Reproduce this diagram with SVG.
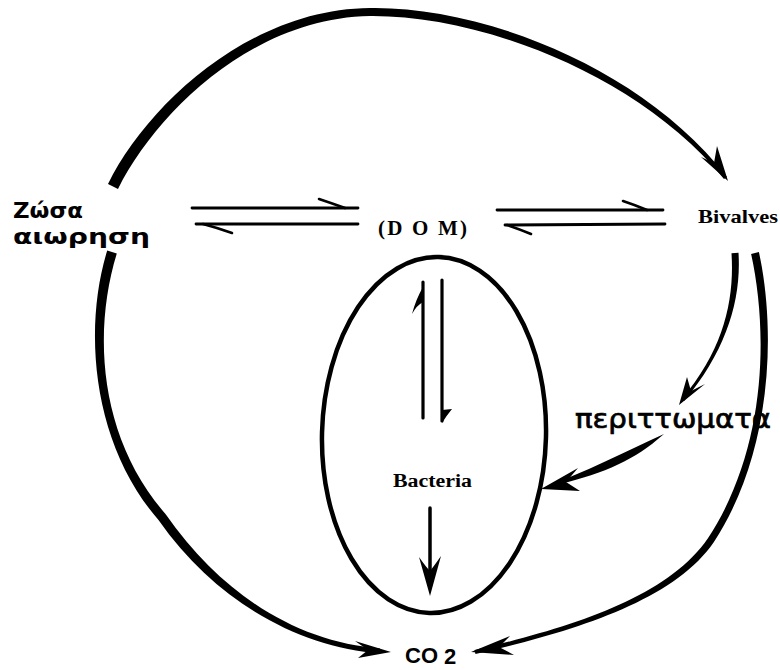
<svg xmlns="http://www.w3.org/2000/svg" width="780" height="670" viewBox="0 0 780 670">
<style>
.ink{fill:#000;stroke:none}
.line{fill:none;stroke:#000;stroke-linecap:round}
.barb{fill:none;stroke:#000;stroke-width:2.6;stroke-linecap:round}
.hand{font-family:"DejaVu Sans","Noto Sans",sans-serif;fill:#000}
.serif{font-family:"Liberation Serif","Times New Roman",serif;font-weight:bold;fill:#000}
.sans{font-family:"Liberation Sans",Arial,sans-serif;font-weight:bold;fill:#000}
</style>
<rect width="780" height="670" fill="#fff"/>

<g id="connectors">
  <!-- top arc: Zosa -> Bivalves -->
  <path class="ink" d="M108,184 C146,107 248,9 370,8 C481,6 642,67 727,177 L724,179 C637,73 479,15 370,16 C252,18 156,113 118,189 Z"/>
  <path class="ink" d="M728,181 L701,157 L714,163 L717,146 Z"/>
  <!-- left arc: Zosa -> CO2 -->
  <path class="ink" d="M107.2,250.5 C83.2,328.5 91.6,443 158.5,520 C216.3,602.6 299.8,647.5 380,653.5 L380,648.5 C300.2,642.5 223.7,597.4 165.5,514 C98.4,437 92.8,331.5 116.8,253.5 Z"/>
  <path class="ink" d="M391,652 L355,641 L368,650 L358,658 Z"/>
  <!-- right outer arc: Bivalves -> CO2 -->
  <path class="ink" d="M758.9,252.1 C775.9,329.1 772.9,451.9 713.9,541.9 C672.9,601.9 570.5,632 475.5,654 L474.5,650 C569.5,628 667.1,598.1 708.1,538.1 C767.1,448.1 768.1,330.9 751.1,253.9 Z"/>
  <path class="ink" d="M471,652 L510,636 L499,647 L514,655 Z"/>
  <!-- Bivalves -> faeces -->
  <path class="ink" d="M738.5,252.8 C741.5,299.8 726.1,351 684.1,401 L681.9,399 C723.9,349 734.5,300.2 731.5,253.2 Z"/>
  <path class="ink" d="M679,405 L687,377 L691,391 L705,384 Z"/>
  <!-- faeces -> bacteria -->
  <path class="ink" d="M664,434 C625,452 585,472 543,488 C590,478 625,465 652,444 Z"/>
  <path class="ink" d="M541,489 L578,468 L566,482 L580,491 Z"/>
  <!-- Zosa <-> DOM -->
  <path class="line" stroke-width="2.8" d="M192,208 L358,208"/>
  <path class="barb" d="M319,199 Q331,203 345,208"/>
  <path class="line" stroke-width="2.8" d="M196,224 L358,224"/>
  <path class="barb" d="M232,233 Q218,228 203,224"/>
  <!-- DOM <-> Bivalves -->
  <path class="line" stroke-width="2.8" d="M497,210 L663,210"/>
  <path class="barb" d="M623,201 Q635,205 647,210"/>
  <path class="line" stroke-width="2.8" d="M505,225 L665,224"/>
  <path class="barb" d="M531,234 Q519,229 507,225"/>
  <!-- DOM <-> Bacteria -->
  <path class="line" stroke-width="3.2" d="M423,418 L423,282"/>
  <path class="ink" d="M412,314 Q416,299 423,287 L423,302 Q417,305 412,314 Z"/>
  <path class="line" stroke-width="3.2" d="M442,280 L442,421"/>
  <path class="ink" d="M452,409 Q447,415 442,423 L442,410 Z"/>
  <!-- Bacteria -> CO2 -->
  <path class="line" stroke-width="3.5" d="M430,508 L430,580"/>
  <path class="ink" d="M430,596 L419,557 Q426,567 430,571 Q434,566 441,556 Z"/>
</g>

<g id="node-zosa">
  <text class="hand" font-weight="bold" font-size="21" x="13" y="218" textLength="70" lengthAdjust="spacingAndGlyphs">Ζώσα</text>
  <text class="hand" font-weight="bold" font-size="21" x="13" y="244" textLength="137" lengthAdjust="spacingAndGlyphs">αιωρηση</text>
</g>
<g id="node-dom">
  <text class="serif" font-size="21" x="378" y="235" textLength="89" lengthAdjust="spacing">(D O M)</text>
</g>
<g id="node-bivalves">
  <text class="serif" font-size="19" x="698" y="223" textLength="80" lengthAdjust="spacingAndGlyphs">Bivalves</text>
</g>
<g id="node-bacteria">
  <ellipse cx="434" cy="435" rx="112" ry="178" fill="none" stroke="#000" stroke-width="4.5" transform="rotate(1.5 434 435)"/>
  <text class="serif" font-size="18" x="393" y="487" textLength="79" lengthAdjust="spacingAndGlyphs">Bacteria</text>
</g>
<g id="node-feces">
  <text class="hand" font-size="26" x="575" y="428" textLength="196" lengthAdjust="spacingAndGlyphs" stroke="#000" stroke-width="0.7">περιττωματα</text>
</g>
<g id="node-co2">
  <text class="sans" font-size="22" x="405" y="663">CO<tspan dx="6" dy="1">2</tspan></text>
</g>
</svg>
